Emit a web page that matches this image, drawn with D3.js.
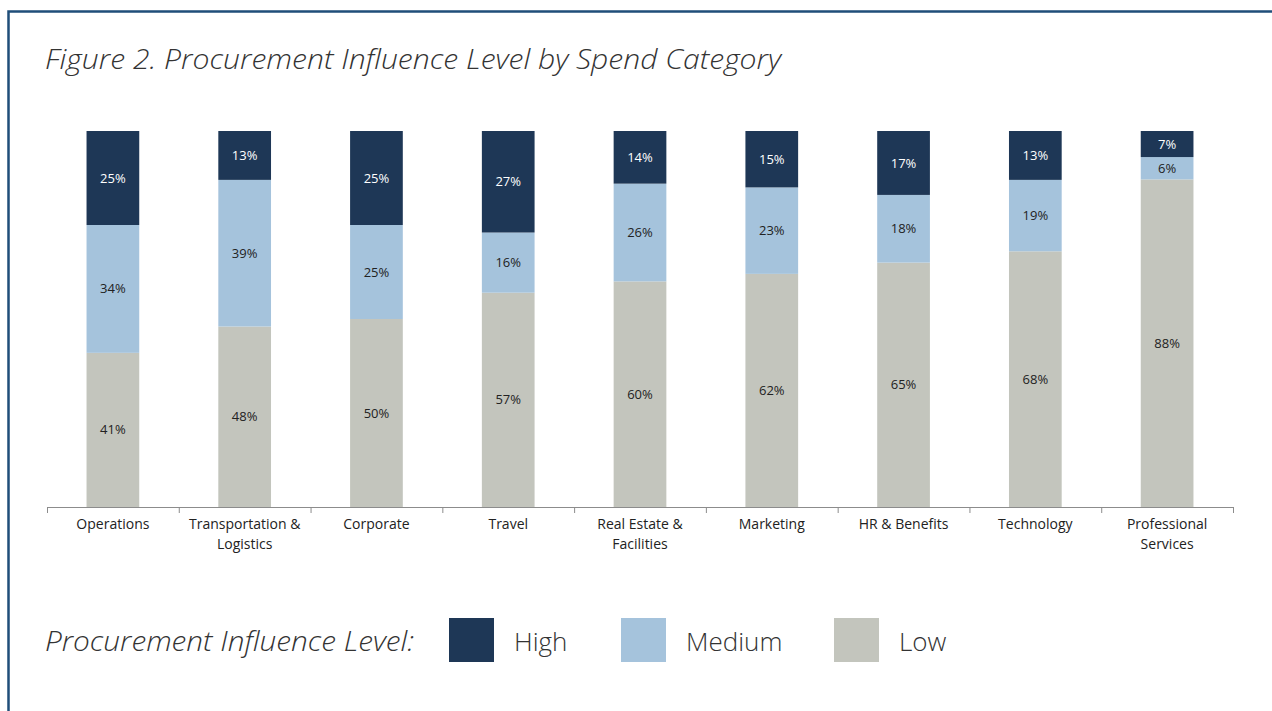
<!DOCTYPE html>
<html>
<head>
<meta charset="utf-8">
<script src="https://cdn.jsdelivr.net/npm/d3@7"></script>
<style>
  body { margin: 0; background: #fff; }
  svg { display: block; font-family: "Open Sans", Lato, sans-serif; }
</style>
</head>
<body>
<div id="chart"></div>
<script>
// data
const categories = ['Operations', 'Transportation & Logistics', 'Corporate', 'Travel',
  'Real Estate & Facilities', 'Marketing', 'HR & Benefits', 'Technology', 'Professional Services'];
const tickLabels = [['Operations'], ['Transportation &', 'Logistics'], ['Corporate'], ['Travel'],
  ['Real Estate &', 'Facilities'], ['Marketing'], ['HR & Benefits'], ['Technology'], ['Professional', 'Services']];
const high = [25, 13, 25, 27, 14, 15, 17, 13, 7];
const medium = [34, 39, 25, 16, 26, 23, 18, 19, 6];
const low = [41, 48, 50, 57, 60, 62, 65, 68, 88];
const levels = ['Low', 'Medium', 'High']; // stack order, bottom up
const legendLevels = ['High', 'Medium', 'Low'];

const colors = { High: '#1e3756', Medium: '#a5c3dc', Low: '#c3c5bd' };
const labelColors = { High: '#ffffff', Medium: '#222222', Low: '#222222' };

class StackedChart {
  width; height; margin;
  svg; chart; axisX; axisTicks;
  data; series;
  scaleX; scaleY;

  constructor(container, width, height, margin) {
    this.width = width;
    this.height = height;
    this.margin = margin; // [top, bottom, left, right]
    this.svg = d3.select(container).append('svg')
      .attr('width', width)
      .attr('height', height);
    // frame, runs off the right and bottom edges
    this.svg.append('rect')
      .attr('x', 8.5).attr('y', 11.5)
      .attr('width', width + 20).attr('height', height + 20)
      .attr('fill', 'none')
      .attr('stroke', '#1f4e79')
      .attr('stroke-width', 2.5);
    this.chart = this.svg.append('g')
      .attr('transform', `translate(${margin[2]},${margin[0]})`);
    this.axisX = this.svg.append('g')
      .attr('transform', `translate(${margin[2]},${height - margin[1]})`);
    this.axisTicks = this.svg.append('g')
      .attr('transform', `translate(${margin[2]},${height - margin[1]})`);
  }

  #updateScales() {
    let chartWidth = this.width - this.margin[2] - this.margin[3];
    let chartHeight = this.height - this.margin[0] - this.margin[1];
    this.scaleX = d3.scaleBand(categories, [0, chartWidth]).paddingInner(0.6).paddingOuter(0.3);
    this.scaleY = d3.scaleLinear([0, 1], [chartHeight, 0]);
    this.series = d3.stack().keys(levels).offset(d3.stackOffsetExpand)(this.data);
  }

  #updateBars() {
    let groups = this.chart.selectAll('g.series')
      .data(this.series)
      .join('g')
      .classed('series', true)
      .attr('fill', s => colors[s.key]);
    groups.selectAll('rect')
      .data(s => s)
      .join('rect')
      .attr('x', d => this.scaleX(d.data.category))
      .attr('y', d => this.scaleY(d[1]))
      .attr('width', this.scaleX.bandwidth())
      .attr('height', d => this.scaleY(d[0]) - this.scaleY(d[1]));
    groups.selectAll('text')
      .data(s => s.map(d => ({ d, key: s.key })))
      .join('text')
      .attr('x', o => this.scaleX(o.d.data.category) + this.scaleX.bandwidth() / 2)
      .attr('y', o => (this.scaleY(o.d[0]) + this.scaleY(o.d[1])) / 2)
      .attr('dy', '0.35em')
      .attr('text-anchor', 'middle')
      .attr('font-size', 13)
      .attr('fill', o => labelColors[o.key])
      .text(o => o.d.data[o.key] + '%');
  }

  #updateAxes() {
    let n = categories.length;
    let chartWidth = this.width - this.margin[2] - this.margin[3];
    this.axisX.call(d3.axisBottom(this.scaleX).tickSize(0).tickSizeOuter(0));
    this.axisX.select('.domain').attr('stroke', '#8c8c8c');
    this.axisX.selectAll('.tick text').remove();
    this.axisX.selectAll('.tick').each(function (d, i) {
      let t = d3.select(this).append('text')
        .attr('fill', '#222')
        .attr('font-size', 14)
        .attr('font-family', '"Open Sans", sans-serif')
        .attr('text-anchor', 'middle')
        .attr('y', 22);
      tickLabels[i].forEach((line, j) => {
        t.append('tspan').attr('x', 0).attr('dy', j ? 20 : 0).text(line);
      });
    });
    // boundary ticks between categories
    let boundary = d3.scaleLinear([0, n], [0, chartWidth]);
    this.axisTicks.call(d3.axisBottom(boundary).ticks(n).tickSize(6).tickFormat(''));
    this.axisTicks.select('.domain').remove();
    this.axisTicks.selectAll('.tick line').attr('stroke', '#8c8c8c');
  }

  #drawTitles() {
    this.svg.append('text')
      .attr('x', 45).attr('y', 69)
      .attr('font-size', 27).attr('font-style', 'italic').attr('font-weight', 300)
      .attr('fill', '#333')
      .attr('textLength', 736).attr('lengthAdjust', 'spacingAndGlyphs')
      .text('Figure 2. Procurement Influence Level by Spend Category');

    let legend = this.svg.append('g');
    legend.append('text')
      .attr('x', 45).attr('y', 651)
      .attr('font-size', 27).attr('font-style', 'italic').attr('font-weight', 300)
      .attr('fill', '#333')
      .attr('textLength', 369).attr('lengthAdjust', 'spacingAndGlyphs')
      .text('Procurement Influence Level:');
    let legendX = d3.scaleOrdinal(legendLevels, [449, 621, 834]);
    let items = legend.selectAll('g.item')
      .data(legendLevels)
      .join('g')
      .classed('item', true)
      .attr('transform', d => `translate(${legendX(d)},618)`);
    items.append('rect')
      .attr('width', 45).attr('height', 44)
      .attr('fill', d => colors[d]);
    items.append('text')
      .attr('x', 65).attr('y', 33)
      .attr('font-size', 26).attr('font-weight', 300)
      .attr('fill', '#333')
      .text(d => d);
  }

  render(dataset) {
    this.data = dataset;
    this.#updateScales();
    this.#updateBars();
    this.#updateAxes();
    this.#drawTitles();
    return this;
  }
}

const dataset = categories.map((c, i) => ({ category: c, High: high[i], Medium: medium[i], Low: low[i] }));

new StackedChart('#chart', 1272, 711, [131, 204, 47, 39]).render(dataset);
</script>
</body>
</html>
